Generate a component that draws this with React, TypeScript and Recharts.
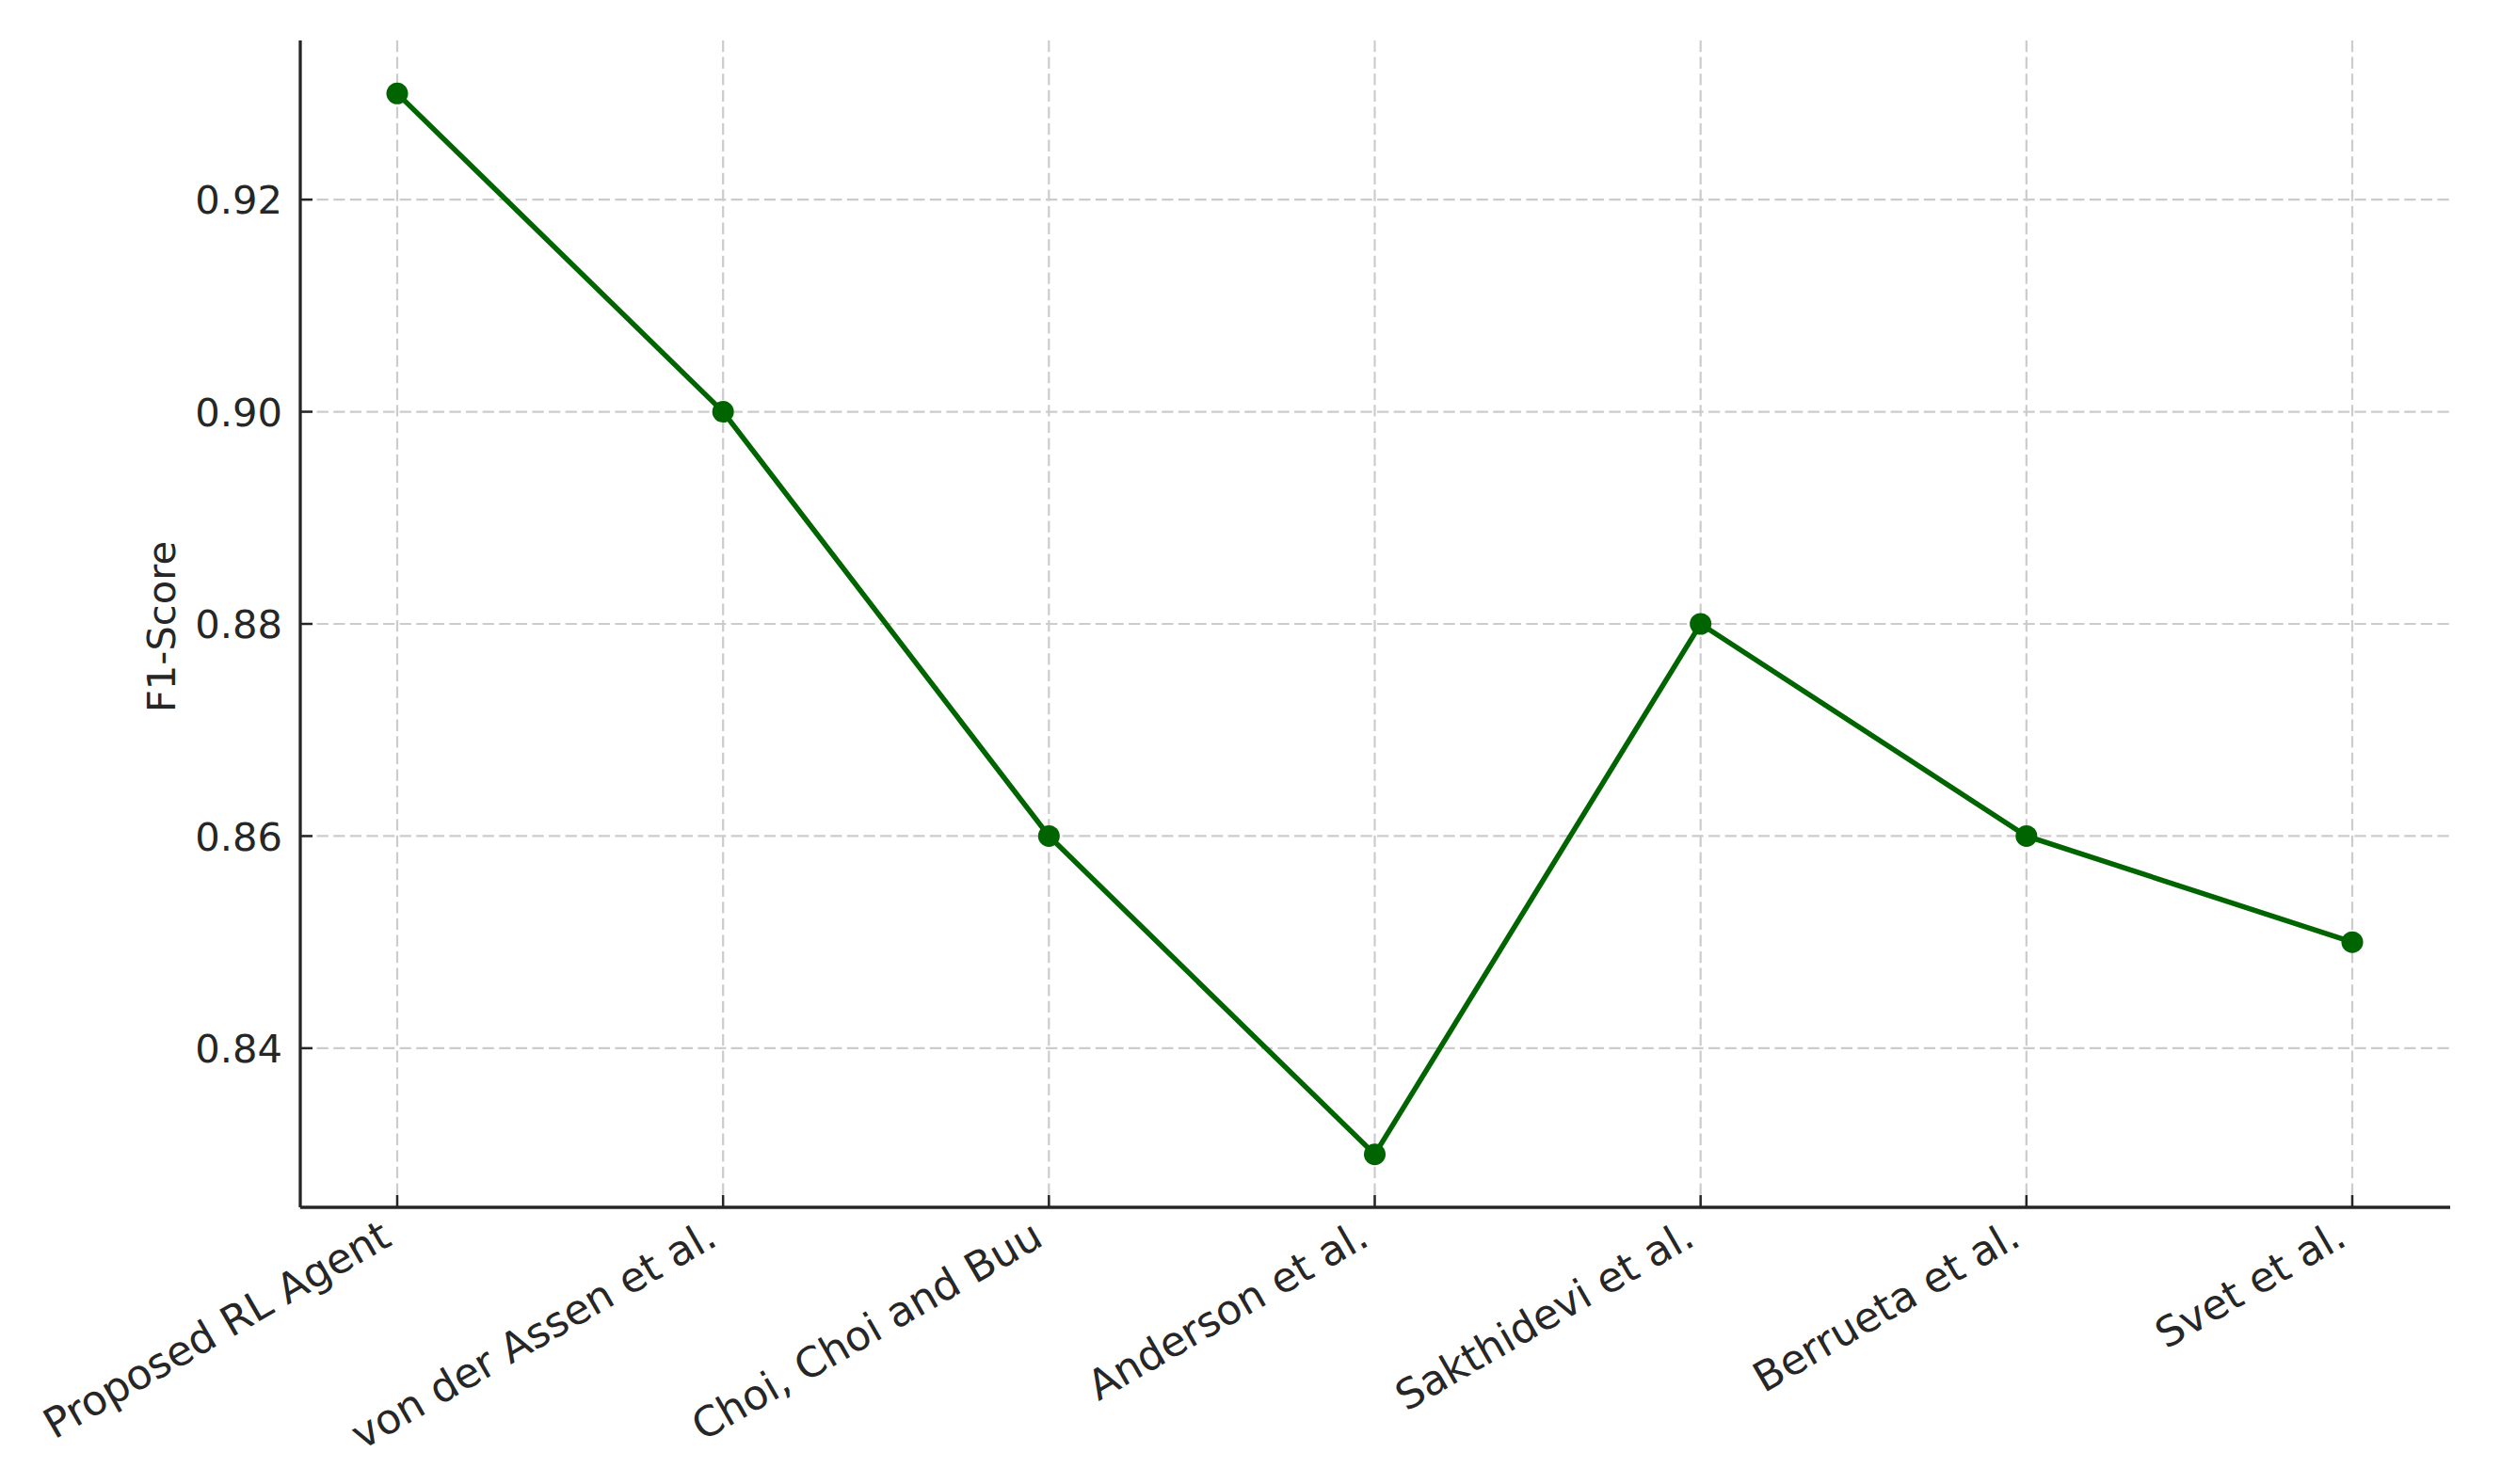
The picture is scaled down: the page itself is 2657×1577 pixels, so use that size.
import React from 'react';
import { LineChart, Line, XAxis, YAxis, CartesianGrid, Label } from 'recharts';

const methods = [
  'Proposed RL Agent',
  'von der Assen et al.',
  'Choi, Choi and Buu',
  'Anderson et al.',
  'Sakthidevi et al.',
  'Berrueta et al.',
  'Svet et al.',
];
const f1Scores = [0.93, 0.9, 0.86, 0.83, 0.88, 0.86, 0.85];
const yTicks = [0.84, 0.86, 0.88, 0.9, 0.92];
const yLabels = ['0.84', '0.86', '0.88', '0.90', '0.92'];

const data = methods.map((m, i) => ({ method: m, f1: f1Scores[i] }));

const FONT = 'DejaVu Sans';
const FS = 41.67;
const XFS = 44;
const TEXT = '#262626';
const GREEN = '#006400';

const XTick = (props: any) => {
  const { x, y, payload } = props;
  const px = x - 4;
  const py = y + 39;
  return (
    <g>
      <line x1={x} y1={y} x2={x} y2={y - 13} stroke={TEXT} strokeWidth={2.5} />
      <text
        x={px}
        y={py}
        textAnchor="end"
        fontFamily={FONT}
        fontSize={XFS}
        fill={TEXT}
        transform={`rotate(-30, ${px}, ${py})`}
      >
        {payload.value}
      </text>
    </g>
  );
};

const YTick = (props: any) => {
  const { x, y, payload } = props;
  const idx = yTicks.findIndex((t) => Math.abs(t - payload.value) < 1e-9);
  const label = idx >= 0 ? yLabels[idx] : String(payload.value);
  return (
    <g>
      <line x1={x} y1={y} x2={x + 13} y2={y} stroke={TEXT} strokeWidth={2.5} />
      <text
        x={x - 19}
        y={y + FS * 0.365}
        textAnchor="end"
        fontFamily={FONT}
        fontSize={FS}
        fill={TEXT}
      >
        {label}
      </text>
    </g>
  );
};

const hGen = (p: any) => {
  const s = p && p.yAxis && p.yAxis.scale;
  if (typeof s === 'function') return yTicks.map((t) => s(t));
  if (s && typeof s.map === 'function') return yTicks.map((t) => s.map(t));
  return [];
};
const vGen = (p: any) => {
  const s = p && p.xAxis && p.xAxis.scale;
  if (typeof s === 'function') return methods.map((m) => s(m));
  if (s && typeof s.map === 'function') return methods.map((m) => s.map(m));
  return [];
};

export default function App() {
  return (
    <div style={{ width: 2640, height: 1560, background: '#fff' }}>
      <LineChart
        width={2640}
        height={1560}
        data={data}
        margin={{ top: 35, right: 45, left: 0, bottom: 0 }}
      >
        <CartesianGrid
          stroke="#cccccc"
          strokeWidth={2.2}
          strokeDasharray="12.3 5.3"
          horizontalCoordinatesGenerator={hGen}
          verticalCoordinatesGenerator={vGen}
        />
        <XAxis
          dataKey="method"
          type="category"
          interval={0}
          height={285}
          padding={{ left: 103, right: 104 }}
          tickSize={0}
          tickMargin={0}
          tickLine={false}
          axisLine={{ stroke: TEXT, strokeWidth: 3.3 }}
          tick={<XTick />}
        />
        <YAxis
          type="number"
          domain={[0.825, 0.935]}
          ticks={yTicks}
          allowDataOverflow
          width={311}
          tickSize={0}
          tickMargin={0}
          tickLine={false}
          axisLine={{ stroke: TEXT, strokeWidth: 3.3 }}
          tick={<YTick />}
        >
          <Label
            content={() => (
              <text
                x={178}
                y={658}
                textAnchor="middle"
                fontFamily={FONT}
                fontSize={FS}
                fill={TEXT}
                transform="rotate(-90, 178, 658)"
              >
                F1-Score
              </text>
            )}
          />
        </YAxis>
        <Line
          type="linear"
          dataKey="f1"
          stroke={GREEN}
          strokeWidth={5.5}
          dot={{ r: 11.5, fill: GREEN, stroke: GREEN, strokeWidth: 0 }}
          activeDot={false}
          isAnimationActive={false}
        />
      </LineChart>
    </div>
  );
}
